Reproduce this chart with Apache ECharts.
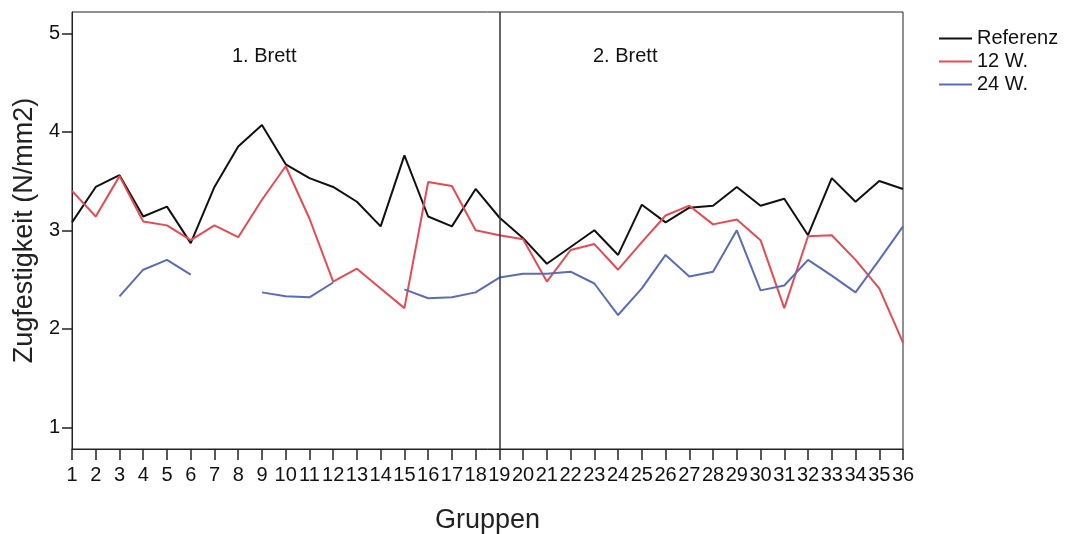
<!DOCTYPE html>
<html>
<head>
<meta charset="utf-8">
<script src="https://cdn.jsdelivr.net/npm/echarts@6/dist/echarts.min.js"></script>
<style>
  html, body { margin: 0; padding: 0; background: #fff; }
  #chart { width: 1066px; height: 534px; }
</style>
</head>
<body>
<div id="chart"></div>
<script>
// Gruppen 1–36 (Brett 1: 1–18, Brett 2: 19–36)
const gruppen = Array.from({ length: 36 }, (_, i) => String(i + 1));

// Zugfestigkeit in N/mm2
const referenz = [3.08, 3.44, 3.56, 3.14, 3.24, 2.87, 3.44, 3.85, 4.07, 3.67,
                  3.53, 3.44, 3.29, 3.04, 3.76, 3.14, 3.04, 3.42, 3.13, 2.92,
                  2.66, 2.83, 3.00, 2.75, 3.26, 3.08, 3.23, 3.25, 3.44, 3.25,
                  3.32, 2.95, 3.53, 3.29, 3.50, 3.42];
const w12 = [3.40, 3.14, 3.55, 3.09, 3.05, 2.90, 3.05, 2.93, 3.31, 3.65,
             3.12, 2.48, 2.61, 2.41, 2.21, 3.49, 3.45, 3.00, 2.95, 2.91,
             2.48, 2.80, 2.86, 2.60, 2.88, 3.15, 3.25, 3.06, 3.11, 2.90,
             2.21, 2.94, 2.95, 2.70, 2.41, 1.86];
const w24 = [null, null, 2.33, 2.60, 2.70, 2.55, null, null, 2.37, 2.33,
             2.32, 2.47, null, null, 2.40, 2.31, 2.32, 2.37, 2.52, 2.56,
             2.56, 2.58, 2.46, 2.14, 2.41, 2.75, 2.53, 2.58, 3.00, 2.39,
             2.44, 2.70, 2.54, 2.37, 2.70, 3.04];

const yTicks = [1, 2, 3, 4, 5];
const seriesNames = ['Referenz', '12 W.', '24 W.'];
const colors = ['#111111', '#e64a52', '#5a6cb8'];
const boardSplit = '19';

const chart = echarts.init(document.getElementById('chart'));
const FONT = 'Liberation Sans, Arial, sans-serif';

function lineSeries(name, data, color, extra) {
  return Object.assign({
    name, type: 'line', data,
    symbol: 'none',
    connectNulls: false,
    lineStyle: { color, width: 2 },
    itemStyle: { color },
    z: 3
  }, extra || {});
}

chart.setOption({
  animation: false,
  backgroundColor: '#fff',
  textStyle: { fontFamily: FONT },
  grid: {
    left: 72, right: 163, top: 12, bottom: 85,
    outerBoundsMode: 'none',
    containLabel: false,
    show: true, borderColor: '#222', borderWidth: 1
  },
  legend: {
    orient: 'vertical',
    left: 934, top: 23,
    icon: 'rect',
    itemWidth: 33, itemHeight: 2,
    itemGap: 2,
    textStyle: { fontFamily: FONT, fontSize: 20, color: '#111', lineHeight: 21 },
    data: seriesNames
  },
  xAxis: {
    type: 'category',
    data: gruppen,
    boundaryGap: false,
    name: 'Gruppen',
    nameLocation: 'middle',
    nameGap: 58,
    nameTextStyle: { fontFamily: FONT, fontSize: 27, color: '#222' },
    axisLine: { lineStyle: { color: '#222', width: 1 } },
    axisTick: { show: true, length: 11, interval: 0, alignWithLabel: true, lineStyle: { color: '#222', width: 1.5 } },
    axisLabel: { interval: 0, margin: 16, fontSize: 20, color: '#111', hideOverlap: false },
    splitLine: { show: false }
  },
  yAxis: {
    type: 'value',
    min: 0.78, max: 5.216,
    name: 'Zugfestigkeit (N/mm2)',
    nameLocation: 'middle',
    nameGap: 34,
    nameTextStyle: { fontFamily: FONT, fontSize: 27, color: '#222' },
    axisLine: { show: true, lineStyle: { color: '#222', width: 1 } },
    axisTick: { show: true, length: 10, customValues: yTicks, lineStyle: { color: '#222', width: 1.5 } },
    axisLabel: { customValues: yTicks, margin: 12, fontSize: 20, color: '#111' },
    splitLine: { show: false }
  },
  graphic: [
    { type: 'text', left: 232, top: 46, style: { text: '1. Brett', font: '20px ' + FONT, fill: '#111' } },
    { type: 'text', left: 593, top: 46, style: { text: '2. Brett', font: '20px ' + FONT, fill: '#111' } }
  ],
  series: [
    lineSeries(seriesNames[0], referenz, colors[0], {
      markLine: {
        silent: true,
        symbol: 'none',
        label: { show: false },
        lineStyle: { color: '#333', width: 1.5, type: 'solid' },
        data: [{ xAxis: boardSplit }]
      }
    }),
    lineSeries(seriesNames[1], w12, colors[1]),
    lineSeries(seriesNames[2], w24, colors[2])
  ]
});
</script>
</body>
</html>
